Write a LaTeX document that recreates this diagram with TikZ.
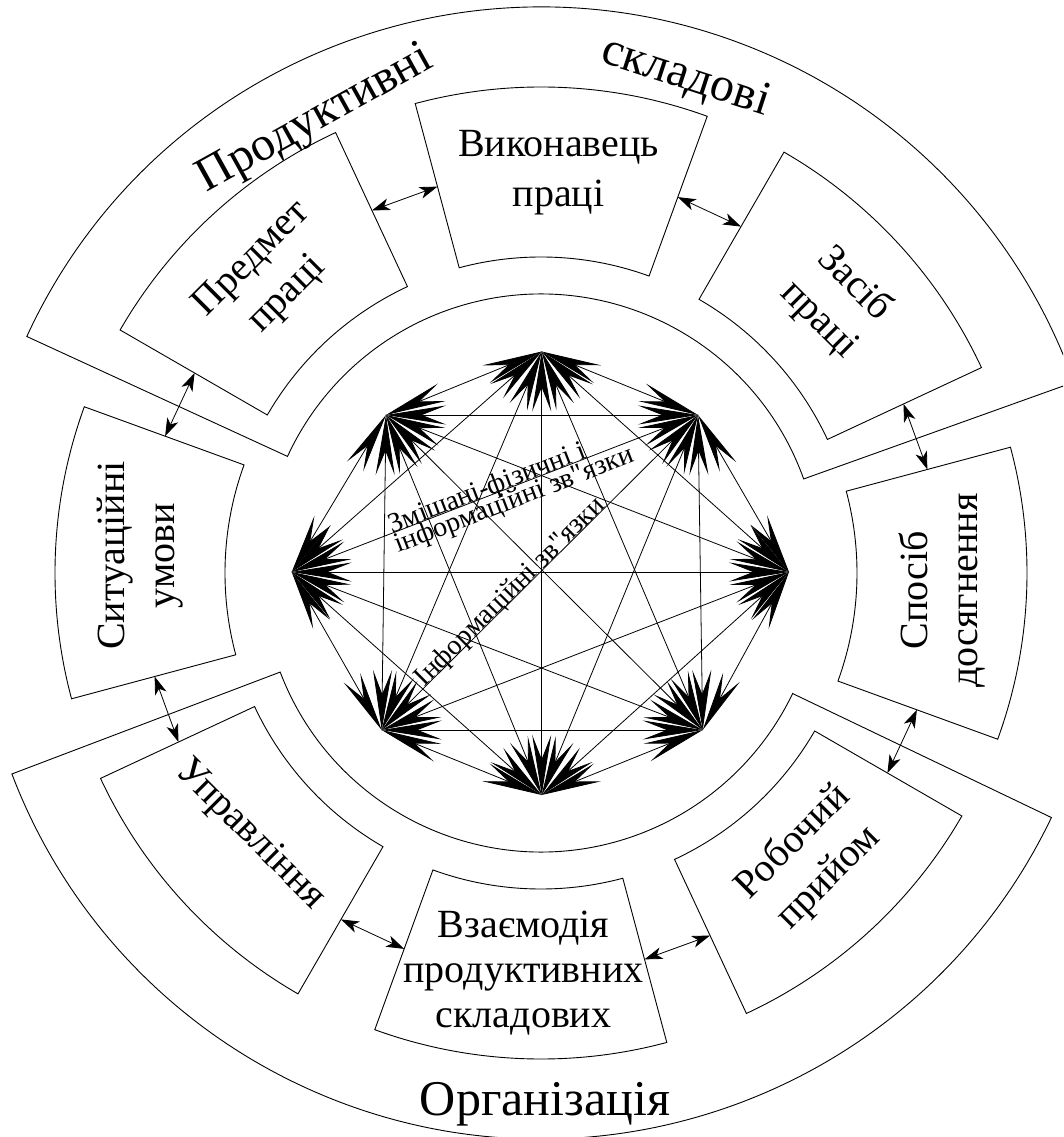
\documentclass[tikz,border=0pt]{standalone}
\usepackage{fontspec}
\setmainfont{Liberation Serif}[Ligatures=TeXOff]
\newfontfamily\tnr{Liberation Serif}[Ligatures=TeXOff]
\usetikzlibrary{arrows.meta}
\tikzset{
  outline/.style={draw=black, line width=0.9pt},
  bigarr/.style={line width=0.8pt,
    {Stealth[length=60pt,width=19pt,inset=24pt]}-{Stealth[length=60pt,width=19pt,inset=24pt]}},
  smallarr/.style={line width=0.8pt,
    {Stealth[length=18pt,width=12pt,inset=5pt]}-{Stealth[length=18pt,width=12pt,inset=5pt]}},
  boxtext/.style={font=\tnr\fontsize{40}{50}\selectfont, align=center, inner sep=0pt},
  bandtext/.style={font=\tnr\fontsize{48}{56}\selectfont, inner sep=0pt, anchor=base},
  startext/.style={font=\tnr\fontsize{28}{32}\selectfont, inner sep=0pt},
}
\newcommand\annsector[4]{%
  \draw[outline] (#1:#3) arc[start angle=#1, end angle=#2, radius=#3]
    -- (#2:#4) arc[start angle=#2, end angle=#1, radius=#4] -- cycle;}
\begin{document}
\begin{tikzpicture}[x=1pt,y=1pt]
\useasboundingbox (-541,-564) rectangle (522,573);

\begin{scope}
\clip (-541,-564) rectangle (522,573);
% big bands
\annsector{19.7}{155.3}{279}{566}
\annsector{200.8}{334.4}{279}{566}
\end{scope}

% eight boxes
\foreach \k in {0,...,7}{
  \pgfmathsetmacro\ca{87.5-45*\k-17.5}
  \pgfmathsetmacro\cb{87.5-45*\k+17.5}
  \annsector{\ca}{\cb}{316}{486}
  \coordinate (bl\k) at (\cb:400);
  \coordinate (br\k) at (\ca:400);
}
\foreach \k [evaluate=\k as \n using {int(mod(\k+1,8))}] in {0,...,7}
  \draw[smallarr] (br\k) -- (bl\n);

% star points
\coordinate (sT)  at (0.7,221.5);
\coordinate (sTR) at (157,158);
\coordinate (sR)  at (248,1);
\coordinate (sBR) at (161.7,-157);
\coordinate (sB)  at (0.7,-222);
\coordinate (sBL) at (-159.3,-157);
\coordinate (sL)  at (-249.3,1);
\coordinate (sTL) at (-155,158);

\foreach \a/\b in {sT/sTR,sT/sR,sT/sBR,sT/sB,sT/sBL,sT/sL,sT/sTL,
  sTR/sR,sTR/sBR,sTR/sB,sTR/sBL,sTR/sL,sTR/sTL,
  sR/sBR,sR/sB,sR/sBL,sR/sL,sR/sTL,
  sBR/sB,sBR/sBL,sBR/sL,sBR/sTL,
  sB/sBL,sB/sL,sB/sTL,
  sBL/sL,sBL/sTL,
  sL/sTL}
  \draw[bigarr] (\a) -- (\b);

% texts in the star
\path (sL) -- (sTR)
  node[startext, pos=0.488, sloped, anchor=base] (tmix1) {Змішані-фізичні і}
  node[startext, pos=0.536, sloped, anchor=north, yshift=-1pt] (tmix2) {інформаційні зв"язки};
\path (sBL) -- (sTR)
  node[startext, pos=0.422, sloped, anchor=base] (tinf) {Інформаційні зв"язки};

% box texts
\node[boxtext] (tVyk) at (87.5:401) {Виконавець\\праці};
\node[boxtext, rotate=-45] (tZas) at (42.5:401) {Засіб\\праці};
\node[boxtext, rotate=90] (tSpos) at (-2.5:401) {Спосіб\\досягнення};
\node[boxtext, rotate=45] (tRob) at (270,-287) {Робочий\\прийом};
\node[boxtext, font=\tnr\fontsize{40}{45}\selectfont] (tVz) at (-92.5:401) {Взаємодія\\продуктивних\\складових};
\node[boxtext, rotate=-45] (tUpr) at (-291,-262) {Управління};
\node[boxtext, rotate=90] (tSyt) at (177.5:401) {Ситуаційні\\умови};
\node[boxtext, rotate=45] (tPr) at (132.5:401) {Предмет\\праці};

% band labels
\node[bandtext, rotate=29] (lProd) at (-220,443.5) {Продуктивні};
\node[bandtext, rotate=-18] (lSkl) at (141,484.5) {складові};
\node[bandtext, font=\tnr\fontsize{50}{56}\selectfont] (lOrg) at (4,-542) {Організація};
\end{tikzpicture}
\end{document}
